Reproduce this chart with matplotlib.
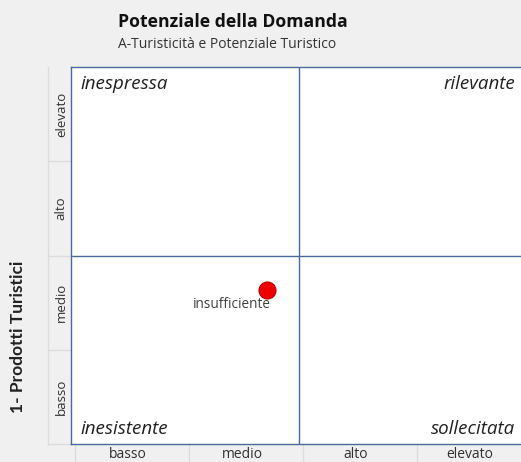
import matplotlib.pyplot as plt
from matplotlib.lines import Line2D

plt.rcParams['font.family'] = ['Open Sans', 'DejaVu Sans']

# dati
livelli_x = ['basso', 'medio', 'alto', 'elevato']
livelli_y = ['basso', 'medio', 'alto', 'elevato']
quadranti = ['inespressa', 'rilevante', 'inesistente', 'sollecitata']
punto_x = [1.72]
punto_y = [1.63]
punto_nome = ['insufficiente']

W, H = 521, 462
fig = plt.figure(figsize=(W / 100, H / 100), dpi=100, facecolor='#f0f0f0')

def fx(px):
    return px / W

def fy(py):
    return 1 - py / H

# area del grafico (si estende oltre il bordo destro)
left, top, right, bottom = 71, 67, 527, 444
ax = fig.add_axes([fx(left), fy(bottom), fx(right - left), fy(top) - fy(bottom)])
ax.set_facecolor('white')
ax.set_xlim(0, 4)
ax.set_ylim(0, 4)
ax.set_xticks([])
ax.set_yticks([])
blu = '#4a6a9a'
for s in ax.spines.values():
    s.set_color(blu)
    s.set_linewidth(1.0)
ax.axvline(2, color=blu, lw=1.0)
ax.axhline(2, color=blu, lw=1.0)

ax.scatter(punto_x, punto_y, s=150, color='#ee0000', edgecolor='#b00000', lw=0.8, zorder=3)
for x, y, n in zip(punto_x, punto_y, punto_nome):
    ax.text(x + 0.03, y - 0.07, n, ha='right', va='top', fontsize=9.8, color='#404040')

# etichette dei quadranti
kw = dict(fontsize=13.5, style='italic', color='#202020')
ax.text(0.08, 3.92, quadranti[0], ha='left', va='top', **kw)
ax.text(3.9, 3.92, quadranti[1], ha='right', va='top', **kw)
ax.text(0.08, 0.06, quadranti[2], ha='left', va='bottom', **kw)
ax.text(3.9, 0.06, quadranti[3], ha='right', va='bottom', **kw)

# celle delle etichette in basso
grigio = '#dcdcdc'
for i, lab in enumerate(livelli_x):
    ax.text(i + 0.5, -0.115, lab, ha='center', va='center', fontsize=10, color='#303030', clip_on=False)
    ax.add_line(Line2D([i + 0.035, i + 0.035], [0, -0.2], color=grigio, lw=1, clip_on=False))

# celle delle etichette a sinistra
for i, lab in enumerate(livelli_y):
    ax.text(-0.085, i + 0.5, lab, ha='center', va='center', rotation=90, fontsize=9.5,
            color='#303030', clip_on=False)
    ax.add_line(Line2D([-0.2, 0], [i, i], color=grigio, lw=1, clip_on=False))
ax.add_line(Line2D([-0.2, -0.2], [0, 4], color=grigio, lw=1, clip_on=False))

# titoli
fig.text(fx(118), fy(22), 'Potenziale della Domanda', fontsize=12.7, fontweight='bold',
         ha='left', va='center', color='#111111')
fig.text(fx(118), fy(44), 'A-Turisticità e Potenziale Turistico', fontsize=10,
         ha='left', va='center', color='#333333')
fig.text(fx(18), fy(337), '1- Prodotti Turistici', fontsize=12.5, fontweight='bold',
         rotation=90, ha='center', va='center', color='#222222', family='Lato')

plt.savefig('out.png', dpi=100, facecolor=fig.get_facecolor())
